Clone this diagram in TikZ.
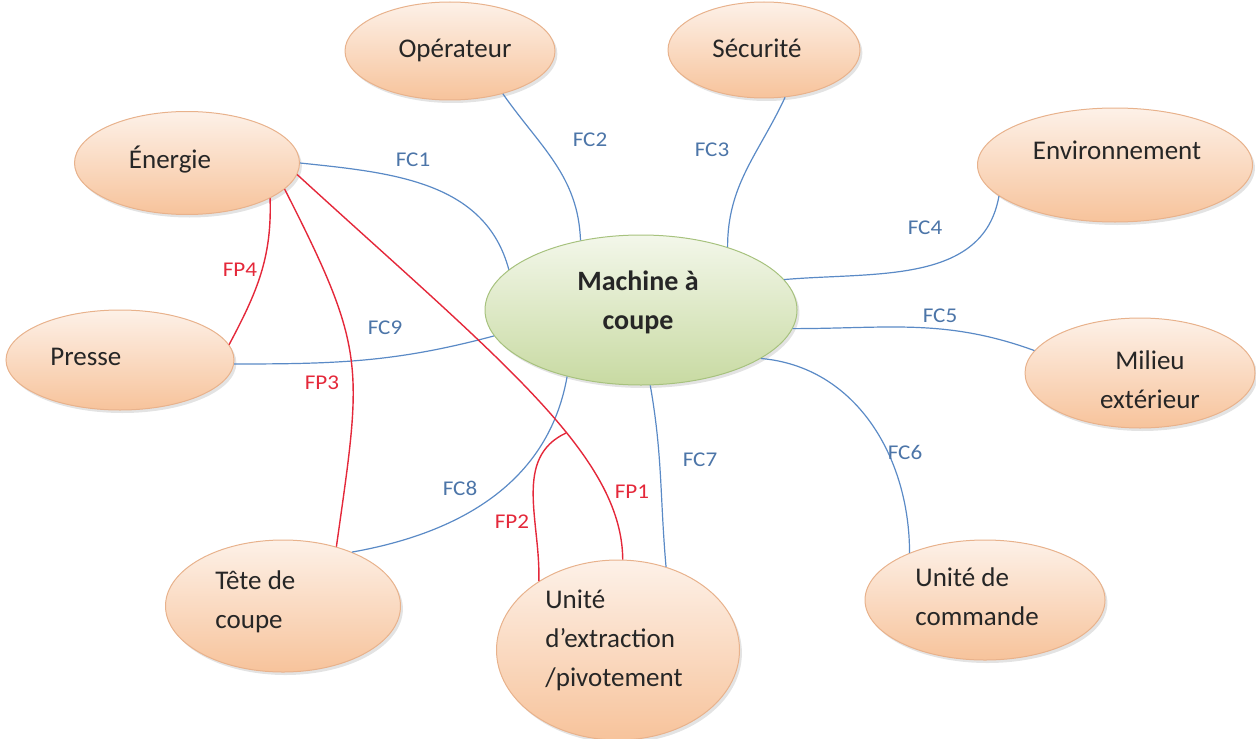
\documentclass[tikz,border=0pt]{standalone}
\usepackage{fontspec}
\setmainfont{Carlito}
\newfontfamily\lblfont[FakeStretch=1.1]{Carlito}
\usetikzlibrary{shapes.geometric,shadows}

\definecolor{peachTop}{HTML}{FDF1E8}
\definecolor{peachBot}{HTML}{F7C39B}
\definecolor{peachRim}{HTML}{E8B28C}
\definecolor{greenTop}{HTML}{F3F7EA}
\definecolor{greenBot}{HTML}{C8DAA2}
\definecolor{greenRim}{HTML}{A7C27E}
\definecolor{fcblue}{HTML}{5A8AC6}
\definecolor{fpred}{HTML}{E4283A}

\tikzset{
	bulle/.style={ellipse, draw=peachRim, line width=0.5pt, top color=peachTop, bottom color=peachBot,
		drop shadow={shadow xshift=1.2pt, shadow yshift=-1.5pt, opacity=0.22}},
	centre/.style={bulle, draw=greenRim, top color=greenTop, bottom color=greenBot},
	txt/.style={font=\fontsize{13.5}{19.5}\selectfont, text=black!85, align=left, inner sep=0pt},
	fc/.style={draw=fcblue, line width=0.6pt},
	fp/.style={draw=fpred, line width=0.7pt},
	lblc/.style={font=\lblfont\fontsize{10.5}{12}\selectfont, text=fcblue!85!black},
	lblp/.style={font=\lblfont\fontsize{10.5}{12}\selectfont, text=fpred}
}

\begin{document}
\begin{tikzpicture}[x=0.5pt, y=-0.5pt]
	\useasboundingbox (0,0) rectangle (1256,738);

	\foreach \nom/\x/\y/\w/\h in {oper/450/51/210/98, secu/764/50/192/96, ener/187/163/225/103,
		envi/1115/165/275/114, pres/120/360/228/100, mili/1140/373/230/110,
		tete/283/606/235/132, extr/618/650/243/180, comm/985/600/240/120}
	{
		\node[bulle, minimum width=\w*0.5pt, minimum height=\h*0.5pt] (\nom) at (\x,\y) {};
	}
	\node[centre, minimum width=156pt, minimum height=75pt] (mach) at (641,310) {};

	\node[txt] (t_oper) at (455,50) {Opérateur};
	\node[txt] (t_secu) at (757,48) {Sécurité};
	\node[txt] (t_ener) at (170,160) {Énergie};
	\node[txt] (t_envi) at (1117,150) {Environnement};
	\node[txt, anchor=west] (t_pres) at (50,357) {Presse};
	\node[txt, align=center] (t_mili) at (1150,380) {Milieu\\extérieur};
	\node[txt, anchor=west] (t_tete) at (215,602) {Tête de\\coupe};
	\node[txt, anchor=west] (t_extr) at (545,640) {Unité\\d’extraction\\/pivotement};
	\node[txt, anchor=west] (t_comm) at (915,597) {Unité de\\commande};
	\node[txt, align=center, font=\bfseries\fontsize{14}{19.5}\selectfont] (t_mach) at (638,302) {Machine à\\coupe};

	\draw[fc] (ener.0) to[out=-6, in=105] (mach.163);
	\draw[fc] (oper.-39) to[out=-55, in=92] (mach.131);
	\draw[fc] (secu.-66) to[out=-115, in=90] (mach.36);
	\draw[fc] (envi.195) to[out=-100, in=5] (mach.12);
	\draw[fc] (mach.-7) to[out=0, in=160] (mili.168);
	\draw[fc] (mach.-22) to[out=-5, in=90] (comm.148);
	\draw[fc] (mach.-83) to[out=-80, in=95] (extr.60);
	\draw[fc] (mach.-138) to[out=-100, in=10] (tete.38);
	\draw[fc] (pres.-2) to[out=0, in=195] (mach.190);

	\coordinate (fp2_top) at (566,433);
	\draw[fp] (ener.-23) to[out=-88, in=62] (pres.8);
	\draw[fp] (ener.-15) to[out=-63, in=82, looseness=1.3] (tete.48);
	\draw[fp] (ener.-6) .. controls (500,360) and (622,455) .. (extr.87);
	\draw[fp] (fp2_top) to[out=205, in=88] (extr.139);

	\foreach \t/\x/\y in {FC1/413/160, FC2/590/140, FC3/712/150, FC4/925/228, FC5/940/316,
		FC6/905/452, FC7/700/460, FC8/460/488, FC9/385/328}
	{
		\node[lblc] (l_\t) at (\x,\y) {\t};
	}
	\foreach \t/\x/\y in {FP1/632/492, FP2/512/522, FP3/322/383, FP4/240/270}
	{
		\node[lblp] (l_\t) at (\x,\y) {\t};
	}
\end{tikzpicture}
\end{document}
